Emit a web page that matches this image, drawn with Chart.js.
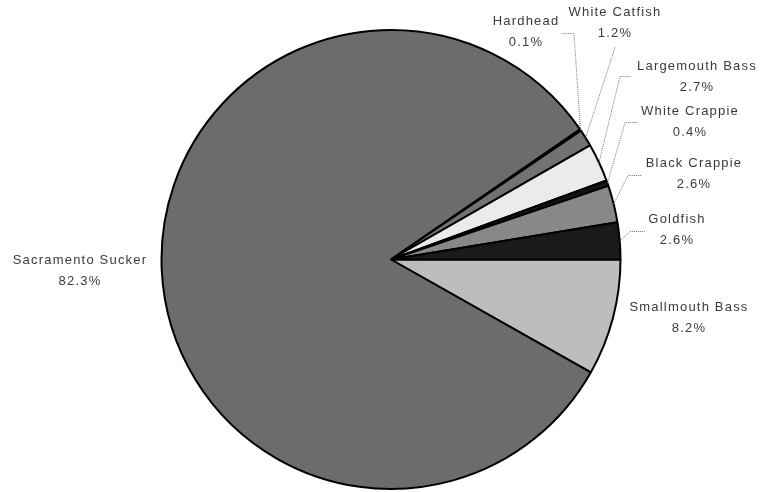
<!DOCTYPE html>
<html>
<head>
<meta charset="utf-8">
<script src="https://cdn.jsdelivr.net/npm/chart.js@4"></script>
<style>
  html, body { margin: 0; padding: 0; background: #fff; }
  #wrap { width: 763px; height: 492px; }
</style>
</head>
<body>
<div id="wrap"><canvas id="fish-chart"></canvas></div>
<script>
// clockwise from 3 o'clock
const species = ['Smallmouth Bass', 'Sacramento Sucker', 'Hardhead', 'White Catfish',
                 'Largemouth Bass', 'White Crappie', 'Black Crappie', 'Goldfish'];
const percent = [8.2, 82.3, 0.1, 1.2, 2.7, 0.4, 2.6, 2.6];
const percentLabels = ['8.2%', '82.3%', '0.1%', '1.2%', '2.7%', '0.4%', '2.6%', '2.6%'];

const fills = ['#bdbdbd', '#6c6c6c', '#111111', '#727272', '#ebebeb', '#141414', '#888888', '#1a1a1a'];

// label placement, offsets from pie centre: text [dx, dy], leader elbow and leader end
const labelLayout = {
   'Smallmouth Bass':   { text: [298, 48] },
   'Sacramento Sucker': { text: [-311, 1] },
   'Hardhead':          { text: [135, -238], elbow: [183, -226], end: [170, -226] },
   'White Catfish':     { text: [224, -247], elbow: [224, -212] },
   'Largemouth Bass':   { text: [306, -193], elbow: [229, -183], end: [240, -183] },
   'White Crappie':     { text: [299, -148], elbow: [234, -137], end: [247, -137] },
   'Black Crappie':     { text: [303, -96],  elbow: [237, -84],  end: [251, -84] },
   'Goldfish':          { text: [286, -40],  elbow: [239, -28],  end: [254, -28] }
};

const pieLabels = {
   id: 'pieLabels',
   afterDatasetsDraw(chart) {
      const ctx = chart.ctx;
      const arcs = chart.getDatasetMeta(0).data;
      ctx.save();
      arcs.forEach((arc, i) => {
         const lay = labelLayout[species[i]];
         const cx = arc.x, cy = arc.y;
         if (lay.elbow) {
            const mid = (arc.startAngle + arc.endAngle) / 2;
            const r = arc.outerRadius;
            ctx.beginPath();
            ctx.setLineDash([1, 1]);
            ctx.strokeStyle = '#777';
            ctx.lineWidth = 1;
            ctx.moveTo(cx + r * Math.cos(mid), cy + r * Math.sin(mid));
            ctx.lineTo(cx + lay.elbow[0], cy + lay.elbow[1]);
            if (lay.end) ctx.lineTo(cx + lay.end[0], cy + lay.end[1]);
            ctx.stroke();
         }
         ctx.setLineDash([]);
         ctx.fillStyle = '#3a3a3a';
         ctx.font = '13px "Liberation Sans", Arial, sans-serif';
         ctx.letterSpacing = '1.2px';
         ctx.textAlign = 'center';
         ctx.textBaseline = 'middle';
         ctx.fillText(species[i], cx + lay.text[0], cy + lay.text[1]);
         ctx.fillText(percentLabels[i], cx + lay.text[0], cy + lay.text[1] + 21);
      });
      ctx.restore();
   }
};

new Chart(document.getElementById('fish-chart'), {
   type: 'pie',
   data: {
      labels: species,
      datasets: [{
         data: percent,
         backgroundColor: fills,
         borderColor: '#000',
         borderWidth: 2
      }]
   },
   options: {
      responsive: true,
      maintainAspectRatio: false,
      animation: false,
      rotation: 90,
      layout: { padding: { top: 29, bottom: 2, left: 19, right: 0 } },
      plugins: {
         legend: { display: false },
         tooltip: { enabled: false }
      }
   },
   plugins: [pieLabels]
});
</script>
</body>
</html>
